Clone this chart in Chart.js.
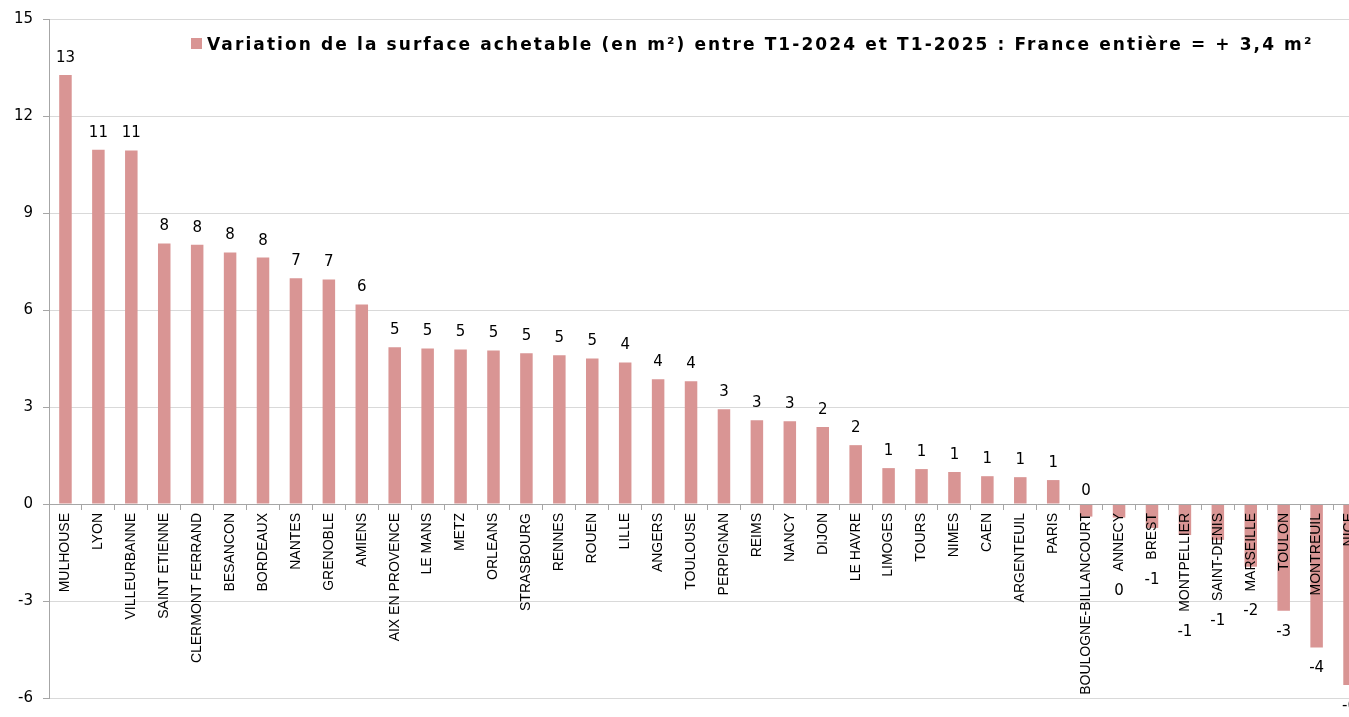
<!DOCTYPE html>
<html lang="fr">
<head>
<meta charset="utf-8">
<script src="https://cdn.jsdelivr.net/npm/chart.js@4.4.1/dist/chart.umd.min.js"></script>
<style>
  html, body { margin: 0; padding: 0; overflow: hidden; background: #fff; }
  #cadre { position: relative; width: 1373px; height: 717px; }
  #legende { position: absolute; left: 191px; top: 34px; height: 19px; display: flex; align-items: center;
             font: bold 17px "DejaVu Sans"; color: #000; white-space: nowrap; letter-spacing: 2.1px; }
  #legende .carre { display: inline-block; width: 11px; height: 11px; background: #d99594; margin-right: 5px; }
</style>
</head>
<body>
<div id="cadre">
  <canvas id="canvas" width="1373" height="717"></canvas>
  <div id="legende"><span class="carre"></span><span id="legendeTexte"></span></div>
</div>
<script>
// Villes (axe des categories)
var villes = ["MULHOUSE", "LYON", "VILLEURBANNE", "SAINT ETIENNE", "CLERMONT FERRAND", "BESANCON",
  "BORDEAUX", "NANTES", "GRENOBLE", "AMIENS", "AIX EN PROVENCE", "LE MANS", "METZ", "ORLEANS",
  "STRASBOURG", "RENNES", "ROUEN", "LILLE", "ANGERS", "TOULOUSE", "PERPIGNAN", "REIMS", "NANCY",
  "DIJON", "LE HAVRE", "LIMOGES", "TOURS", "NIMES", "CAEN", "ARGENTEUIL", "PARIS",
  "BOULOGNE-BILLANCOURT", "ANNECY", "BREST", "MONTPELLIER", "SAINT-DENIS", "MARSEILLE", "TOULON",
  "MONTREUIL", "NICE"];

// Variation en m2
var variations = [13.27, 10.96, 10.93, 8.06, 8.02, 7.78,
  7.62, 6.98, 6.94, 6.17, 4.85, 4.81, 4.78, 4.75,
  4.66, 4.60, 4.50, 4.38, 3.86, 3.80, 2.93, 2.59, 2.56,
  2.38, 1.82, 1.11, 1.08, 0.99, 0.86, 0.83, 0.74,
  -0.39, -0.42, -0.74, -0.96, -1.11, -1.94, -3.30,
  -4.44, -5.60];

var serieNom = "Variation de la surface achetable (en m\u00b2) entre T1-2024 et T1-2025 : France enti\u00e8re = + 3,4 m\u00b2";

// Graduations de l'axe vertical
var yMin = -6;
var yMax = 15;
var yPas = 3;

document.getElementById("legendeTexte").textContent = serieNom;

var policeVilles = { family: "Liberation Sans", size: 14 };

// Etiquettes de valeurs au bout des barres (arrondies, comme dans Excel)
var etiquettes = {
  id: "etiquettes",
  afterDatasetsDraw: function(chart) {
    var ctx = chart.ctx;
    var meta = chart.getDatasetMeta(0);
    var zero = chart.scales.y.getPixelForValue(0);
    var bas = chart.chartArea.bottom;
    ctx.save();
    meta.data.forEach(function(barre, i) {
      var v = variations[i];
      var texte = String(Math.round(v));
      var y;
      if (v >= 0) {
        y = barre.y - 17;
      } else {
        ctx.font = policeVilles.size + 'px "' + policeVilles.family + '"';
        var finVille = zero + 8 + ctx.measureText(villes[i]).width;
        y = Math.max(barre.y, finVille) + 21;
        if (finVille + 21 > bas && barre.y < finVille) y = zero - 13;
      }
      ctx.font = '15px "DejaVu Sans"';
      ctx.fillStyle = "#000";
      ctx.textAlign = "center";
      ctx.textBaseline = "middle";
      ctx.fillText(texte, barre.x, y);
    });
    ctx.restore();
  }
};

var ctx = document.getElementById("canvas").getContext("2d");
var chart = new Chart(ctx, {
  type: "bar",
  data: {
    labels: villes,
    datasets: [{
      label: serieNom,
      data: variations,
      backgroundColor: "#d99594",
      barPercentage: 0.38,
      categoryPercentage: 1.0
    }]
  },
  options: {
    responsive: false,
    animation: false,
    layout: { padding: { top: 18, right: 7, bottom: 18, left: 0 } },
    plugins: {
      legend: { display: false },
      tooltip: { enabled: false }
    },
    scales: {
      x: {
        position: { y: 0 },
        grid: { offset: true, drawOnChartArea: false, tickLength: 5, color: "#a6a6a6", z: 1 },
        border: { color: "#a6a6a6", z: 1 },
        ticks: {
          z: 1,
          autoSkip: false, minRotation: 90, maxRotation: 90, padding: 4,
          font: policeVilles, color: "#000"
        },
        afterFit: function(s) { s.height = 0; }
      },
      y: {
        min: yMin,
        max: yMax,
        grid: { color: "#d9d9d9", tickColor: "#a6a6a6", tickLength: 6 },
        border: { color: "#a6a6a6" },
        ticks: {
          stepSize: yPas, padding: 10,
          font: { family: "DejaVu Sans", size: 15 }, color: "#000"
        },
        afterFit: function(s) { s.width = 49; }
      }
    }
  },
  plugins: [etiquettes]
});
</script>
</body>
</html>
